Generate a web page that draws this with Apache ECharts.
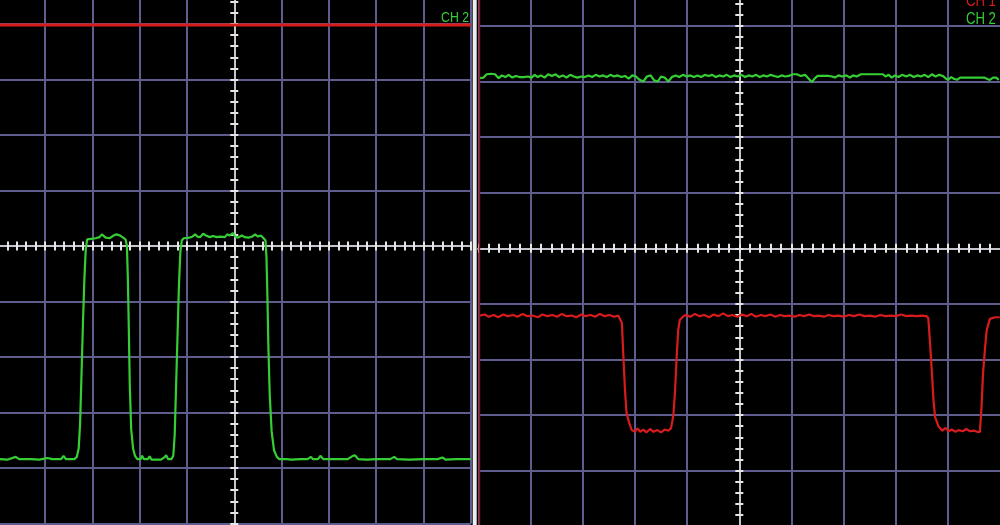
<!DOCTYPE html>
<html>
<head>
<meta charset="utf-8">
<script src="https://cdn.jsdelivr.net/npm/echarts@6/dist/echarts.min.js"></script>
<style>
html,body{margin:0;padding:0;background:#000;}
#c{width:1000px;height:525px;}
</style>
</head>
<body>
<div id="c"></div>
<script>
// time in divisions, amplitude in divisions
const channelLabels = ['CH 1', 'CH 2'];

// Left screen
const leftCh1 = [[-5, 3.98], [5, 3.98]];
const leftCh2 = [
[-4.96,-3.84],[-4.80,-3.85],[-4.62,-3.80],[-4.55,-3.84],[-4.30,-3.84],[-4.12,-3.85],[-3.95,-3.82],[-3.85,-3.84],[-3.66,-3.84],[-3.61,-3.78],[-3.56,-3.84],[-3.38,-3.84],
[-3.33,-3.80],[-3.29,-3.65],[-3.26,-3.20],[-3.23,-2.30],[-3.20,-1.40],[-3.17,-0.60],[-3.14,-0.05],[-3.11,0.12],[-3.07,0.14],
[-2.93,0.14],[-2.85,0.16],[-2.80,0.21],[-2.76,0.20],[-2.72,0.15],[-2.63,0.14],[-2.55,0.19],[-2.49,0.21],[-2.42,0.19],[-2.35,0.15],[-2.30,0.12],
[-2.27,0.00],[-2.25,-0.60],[-2.23,-1.50],[-2.21,-2.50],[-2.18,-3.30],[-2.14,-3.65],[-2.10,-3.78],[-2.05,-3.84],
[-1.98,-3.84],[-1.95,-3.78],[-1.91,-3.84],[-1.83,-3.84],[-1.79,-3.79],[-1.75,-3.85],[-1.55,-3.85],[-1.48,-3.81],[-1.44,-3.77],[-1.40,-3.84],[-1.33,-3.84],
[-1.29,-3.78],[-1.26,-3.40],[-1.23,-2.50],[-1.20,-1.60],[-1.17,-0.70],[-1.14,-0.10],[-1.11,0.10],[-1.07,0.14],
[-0.95,0.15],[-0.88,0.17],[-0.83,0.21],[-0.78,0.17],[-0.72,0.16],[-0.66,0.22],[-0.60,0.19],[-0.52,0.16],[-0.45,0.18],[-0.37,0.16],[-0.30,0.17],[-0.20,0.16],[-0.15,0.21],[-0.10,0.19],[-0.03,0.23],[0.02,0.17],[0.08,0.15],[0.16,0.19],[0.22,0.16],[0.30,0.15],[0.38,0.17],[0.44,0.21],[0.50,0.17],[0.56,0.19],[0.62,0.14],
[0.66,0.10],[0.68,-0.20],[0.70,-0.90],[0.72,-1.80],[0.75,-2.70],[0.79,-3.35],[0.84,-3.68],[0.90,-3.80],[0.95,-3.84],
[1.10,-3.84],[1.20,-3.85],[1.40,-3.84],[1.55,-3.84],[1.62,-3.80],[1.66,-3.84],[1.77,-3.84],[1.82,-3.78],[1.88,-3.84],[2.10,-3.84],[2.40,-3.84],[2.49,-3.79],[2.55,-3.77],[2.62,-3.84],[2.80,-3.85],[3.00,-3.84],[3.30,-3.84],[3.38,-3.80],[3.44,-3.84],[3.70,-3.85],[4.00,-3.84],[4.30,-3.84],[4.40,-3.81],[4.46,-3.85],[4.70,-3.84],[5.00,-3.84]
];

// Right screen
const rightCh1 = [
[-4.97,-1.21],[-4.88,-1.19],[-4.80,-1.23],[-4.70,-1.20],[-4.62,-1.24],[-4.52,-1.19],[-4.44,-1.22],[-4.33,-1.20],[-4.25,-1.23],[-4.15,-1.18],[-4.06,-1.22],[-3.96,-1.21],[-3.86,-1.24],[-3.77,-1.19],[-3.68,-1.22],[-3.58,-1.20],[-3.49,-1.23],[-3.40,-1.18],[-3.31,-1.22],[-3.21,-1.21],[-3.12,-1.24],[-3.03,-1.19],[-2.95,-1.22],[-2.85,-1.20],[-2.76,-1.23],[-2.67,-1.18],[-2.58,-1.22],[-2.49,-1.20],[-2.40,-1.23],[-2.32,-1.21],
[-2.29,-1.23],[-2.25,-1.34],[-2.22,-1.95],[-2.19,-2.55],[-2.16,-2.96],[-2.11,-3.14],[-2.06,-3.27],
[-2.00,-3.30],[-1.95,-3.24],[-1.90,-3.30],[-1.84,-3.26],[-1.78,-3.31],[-1.71,-3.25],[-1.64,-3.30],[-1.57,-3.27],[-1.50,-3.31],[-1.43,-3.26],[-1.36,-3.28],[-1.31,-3.24],
[-1.28,-3.10],[-1.26,-2.96],[-1.23,-2.55],[-1.20,-1.95],[-1.17,-1.47],[-1.14,-1.29],[-1.07,-1.22],[-1.02,-1.20],
[-0.94,-1.23],[-0.85,-1.18],[-0.76,-1.22],[-0.67,-1.20],[-0.58,-1.24],[-0.49,-1.19],[-0.40,-1.22],[-0.31,-1.17],[-0.22,-1.22],[-0.13,-1.20],[-0.04,-1.23],[0.05,-1.19],[0.14,-1.22],[0.23,-1.18],[0.32,-1.23],[0.41,-1.20],[0.50,-1.22],[0.60,-1.19],[0.69,-1.23],[0.78,-1.20],[0.87,-1.22],[0.96,-1.21],[1.06,-1.23],[1.15,-1.20],[1.24,-1.22],[1.34,-1.19],[1.43,-1.22],[1.52,-1.21],[1.62,-1.23],[1.71,-1.20],[1.80,-1.22],[1.90,-1.21],[2.00,-1.23],[2.10,-1.20],[2.20,-1.22],[2.30,-1.19],[2.40,-1.22],[2.50,-1.21],[2.60,-1.23],[2.70,-1.20],[2.80,-1.22],[2.90,-1.21],[3.00,-1.22],[3.10,-1.19],[3.20,-1.22],[3.30,-1.21],[3.40,-1.22],[3.50,-1.21],[3.58,-1.22],
[3.62,-1.25],[3.65,-1.65],[3.69,-2.24],[3.72,-2.73],[3.75,-3.03],[3.82,-3.21],[3.89,-3.28],
[3.95,-3.23],[4.01,-3.29],[4.07,-3.26],[4.14,-3.30],[4.20,-3.27],[4.28,-3.29],[4.35,-3.25],[4.42,-3.29],[4.49,-3.28],[4.56,-3.30],
[4.61,-3.30],[4.64,-2.85],[4.67,-2.24],[4.71,-1.77],[4.74,-1.47],[4.80,-1.27],[4.90,-1.24],[4.99,-1.24]
];
const rightCh2 = [
[-4.97,3.06],[-4.90,3.07],[-4.84,3.13],[-4.76,3.14],[-4.68,3.13],[-4.61,3.06],[-4.55,3.11],[-4.48,3.08],[-4.42,3.12],[-4.35,3.07],[-4.28,3.10],[-4.21,3.08],[-4.13,3.08],[-4.05,3.09],[-3.98,3.07],[-3.92,3.12],[-3.86,3.08],[-3.80,3.11],[-3.73,3.07],[-3.66,3.13],[-3.59,3.10],[-3.52,3.13],[-3.45,3.08],[-3.38,3.11],[-3.31,3.07],[-3.24,3.12],[-3.17,3.09],[-3.10,3.07],[-3.03,3.09],[-2.96,3.08],[-2.89,3.11],[-2.82,3.08],[-2.75,3.12],[-2.68,3.09],[-2.61,3.11],[-2.54,3.08],[-2.47,3.12],[-2.40,3.09],[-2.33,3.11],[-2.26,3.08],[-2.19,3.10],[-2.12,3.05],[-2.05,3.11],[-1.98,3.09],[-1.91,3.03],[-1.84,3.00],[-1.77,3.09],[-1.70,3.11],[-1.63,3.02],[-1.56,3.00],[-1.50,3.09],[-1.43,3.07],[-1.36,3.00],[-1.29,3.08],[-1.22,3.11],[-1.15,3.08],[-1.08,3.12],[-1.01,3.09],[-0.94,3.11],[-0.87,3.08],[-0.80,3.11],[-0.73,3.08],[-0.66,3.12],[-0.59,3.10],[-0.52,3.12],[-0.45,3.08],[-0.38,3.11],[-0.31,3.09],[-0.24,3.12],[-0.17,3.08],[-0.10,3.11],[-0.03,3.09],
[0.04,3.12],[0.11,3.08],[0.18,3.11],[0.25,3.09],[0.32,3.12],[0.39,3.08],[0.46,3.11],[0.53,3.09],[0.60,3.12],[0.67,3.10],[0.74,3.08],[0.81,3.11],[0.88,3.09],[0.95,3.10],[1.02,3.13],[1.10,3.13],[1.18,3.10],[1.26,3.12],[1.33,3.05],[1.39,2.99],[1.45,3.06],[1.50,3.10],[1.60,3.10],[1.70,3.10],[1.78,3.09],[1.83,3.07],[1.90,3.11],[1.97,3.09],[2.05,3.11],[2.12,3.07],[2.18,3.11],[2.25,3.09],[2.33,3.13],[2.50,3.13],[2.65,3.13],[2.75,3.13],[2.80,3.09],[2.86,3.12],[2.92,3.07],[2.98,3.11],[3.05,3.08],[3.12,3.12],[3.20,3.09],[3.27,3.12],[3.34,3.08],[3.41,3.11],[3.48,3.09],[3.55,3.12],[3.62,3.08],[3.69,3.13],[3.76,3.09],[3.83,3.12],[3.90,3.10],[3.96,3.05],[4.00,3.03],[4.06,3.08],[4.11,3.05],[4.17,3.03],[4.23,3.07],[4.30,3.07],[4.50,3.07],[4.70,3.07],[4.76,3.04],[4.80,3.03],[4.86,3.07],[4.92,3.07],[4.97,3.03]
];

const GRIDC = '#5f5c8e';
const T = 'rgba(0,0,0,0)';
const gridColors = [GRIDC, T, T, T, T];
const AXC = '#c4c4cc';
const TICKC = '#e6e6e6';
const RED = '#d81c1c';
const GREEN = '#35cf35';

function xAxes(g, yMain) {
  return [
    { gridIndex: g, type: 'value', min: -5, max: 5, interval: 0.2, position: 'bottom',
      axisLine: { show: true, onZero: true, onZeroAxisIndex: yMain, lineStyle: { color: AXC, width: 2 } },
      axisTick: { show: true, length: 4.5, lineStyle: { color: TICKC, width: 2 } },
      axisLabel: { show: false },
      splitLine: { show: true, lineStyle: { color: gridColors, width: 2 } } },
    { gridIndex: g, type: 'value', min: -5, max: 5, interval: 0.2, position: 'top',
      axisLine: { show: true, onZero: true, onZeroAxisIndex: yMain, lineStyle: { color: AXC, width: 2 } },
      axisTick: { show: true, length: 4.5, lineStyle: { color: TICKC, width: 2 } },
      axisLabel: { show: false }, splitLine: { show: false } }
  ];
}
function yAxes(g, xMain) {
  return [
    { gridIndex: g, type: 'value', min: -5, max: 4.6, interval: 0.2, position: 'left',
      axisLine: { show: true, onZero: true, onZeroAxisIndex: xMain, lineStyle: { color: AXC, width: 2 } },
      axisTick: { show: true, length: 4, lineStyle: { color: TICKC, width: 2 } },
      axisLabel: { show: false },
      splitLine: { show: true, lineStyle: { color: gridColors, width: 2 } } },
    { gridIndex: g, type: 'value', min: -5, max: 4.6, interval: 0.2, position: 'right',
      axisLine: { show: true, onZero: true, onZeroAxisIndex: xMain, lineStyle: { color: AXC, width: 2 } },
      axisTick: { show: true, length: 4, lineStyle: { color: TICKC, width: 2 } },
      axisLabel: { show: false }, splitLine: { show: false } }
  ];
}
function trace(data, color, xi, yi, w) {
  return { type: 'line', data: data, xAxisIndex: xi, yAxisIndex: yi, showSymbol: false,
    symbol: 'none', lineStyle: { color: color, width: w }, itemStyle: { color: color }, z: 5, silent: true };
}
function label(text, x, y, color, size) {
  return { type: 'text', x: x, y: y, scaleX: 0.82, z: 100,
    style: { text: text, fill: color, font: size + 'px "Liberation Sans", Arial, sans-serif', verticalAlign: 'middle', textVerticalAlign: 'middle' } };
}

const chart = echarts.init(document.getElementById('c'), null, { renderer: 'canvas', width: 1000, height: 525 });
chart.setOption({
  backgroundColor: '#000',
  animation: false,
  grid: [
    { left: -2.2, top: -9.3, width: 473, height: 532.8, outerBoundsMode: 'none', containLabel: false },
    { left: 478.3, top: -7.46, width: 522, height: 533.76, outerBoundsMode: 'none', containLabel: false }
  ],
  xAxis: [...xAxes(0, 0), ...xAxes(1, 2)],
  yAxis: [...yAxes(0, 0), ...yAxes(1, 2)],
  series: [
    trace(leftCh1, RED, 0, 0, 3),
    trace(leftCh2, GREEN, 0, 0, 2.2),
    trace(rightCh2, GREEN, 2, 2, 2.2),
    trace(rightCh1, RED, 2, 2, 2.2)
  ],
  graphic: [
    { type: 'rect', z: 90, shape: { x: 472.7, y: 0, width: 4, height: 525 }, style: { fill: '#ededed' } },
    { type: 'rect', z: 90, shape: { x: 478.6, y: 0, width: 1.6, height: 525 }, style: { fill: '#8c1e2c' } },
    label(channelLabels[0], 441, -4, RED, 15),
    label(channelLabels[1], 441, 18, GREEN, 15),
    label(channelLabels[0], 966, 2, RED, 16),
    label(channelLabels[1], 966, 20, GREEN, 16)
  ]
});
</script>
</body>
</html>
